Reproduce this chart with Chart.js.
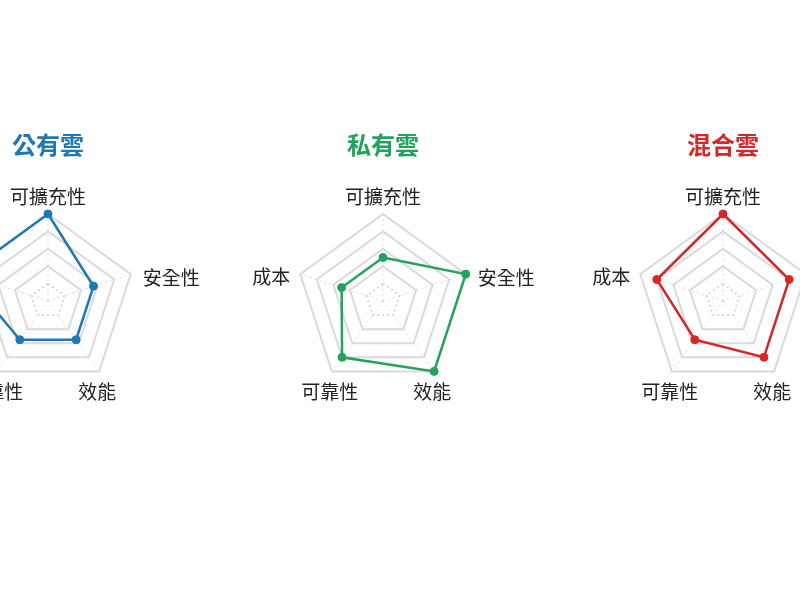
<!DOCTYPE html>
<html>
<head>
<meta charset="utf-8">
<script src="https://cdn.jsdelivr.net/npm/chart.js@4.4.1/dist/chart.umd.min.js"></script>
<style>
  html, body { margin: 0; padding: 0; background: #fff; overflow: hidden; width: 800px; height: 600px; }
  .radar-box { position: absolute; top: 100px; width: 340px; height: 340px; }
</style>
</head>
<body>
<div class="radar-box" style="left:-122px"><canvas id="publicCloud"></canvas></div>
<div class="radar-box" style="left:213px"><canvas id="privateCloud"></canvas></div>
<div class="radar-box" style="left:553px"><canvas id="hybridCloud"></canvas></div>

<script>
// categories (clockwise from the top)
const criteria = ['可擴充性', '安全性', '效能', '可靠性', '成本'];

// scores, 0-10
const publicScores  = [10, 5.5, 5.5, 5.5, 10];
const privateScores = [5, 10, 10, 8, 5];
const hybridScores  = [10, 8, 8, 5.5, 8];

const chartTitles = ['公有雲', '私有雲', '混合雲'];
const lineColors  = ['#1f77b4', '#23a25c', '#d62728'];

const LABEL_FONT = "'Noto Sans CJK TC', 'Noto Sans', sans-serif";

// draws the axis names next to each corner of the outer ring
const cornerLabels = {
  id: 'cornerLabels',
  afterDraw(chart) {
    const scale = chart.scales.r;
    const c = chart.ctx;
    c.save();
    c.font = '19px ' + LABEL_FONT;
    c.fillStyle = '#222';
    c.textBaseline = 'middle';
    chart.data.labels.forEach((txt, i) => {
      const p = scale.getPointPosition(i, scale.drawingArea);
      let x = p.x, y = p.y;
      if (i === 0) {              // top
        c.textAlign = 'center'; y -= 17.5;
      } else if (i === 1) {       // right
        c.textAlign = 'left'; x += 12; y += 4;
      } else if (i === 4) {       // left
        c.textAlign = 'right'; x -= 10; y += 3;
      } else {                    // bottom two
        c.textAlign = 'center'; x -= 2; y += 20;
      }
      c.fillText(txt, x, y);
    });
    c.restore();
  }
};

function makeRadar(id, title, scores, color){
  return new Chart(document.getElementById(id), {
    type: 'radar',
    data: {
      labels: criteria,
      datasets: [{
        label: title,
        data: scores,
        borderColor: color,
        backgroundColor: color,
        borderWidth: 2.5,
        fill: false,
        pointRadius: 4,
        pointBackgroundColor: color,
        pointBorderColor: color,
        pointBorderWidth: 1
      }]
    },
    options: {
      responsive: true,
      maintainAspectRatio: false,
      animation: false,
      layout: { padding: { top: 0, bottom: 52, left: 0, right: 0 } },
      plugins: {
        legend: { display: false },
        tooltip: { enabled: false },
        title: {
          display: true,
          text: title,
          color: color,
          font: { family: LABEL_FONT, size: 24, weight: 'bold' },
          padding: { top: 30, bottom: 55.2 }
        }
      },
      scales: {
        r: {
          min: 0,
          max: 10,
          ticks: { stepSize: 2, display: false },
          pointLabels: { display: false },
          grid: { color: '#dadada', lineWidth: 2 },
          border: {
            dash: ctx => ctx.index === 1 ? [2, 3] : []
          },
          angleLines: { color: '#dcdcdc', lineWidth: 1, borderDash: [2, 3] }
        }
      }
    },
    plugins: [cornerLabels]
  });
}

makeRadar('publicCloud',  chartTitles[0], publicScores,  lineColors[0]);
makeRadar('privateCloud', chartTitles[1], privateScores, lineColors[1]);
makeRadar('hybridCloud',  chartTitles[2], hybridScores,  lineColors[2]);
</script>
</body>
</html>
